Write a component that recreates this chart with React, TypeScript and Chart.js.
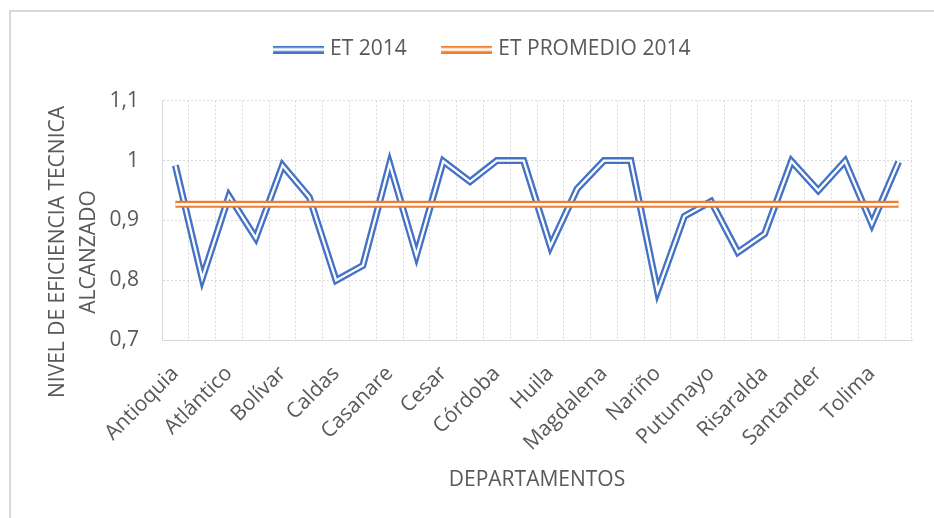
import React, { useEffect, useRef } from 'react';
import { Chart, registerables } from 'chart.js';

Chart.register(...registerables);

const DEPARTAMENTOS = [
  'Antioquia', 'Arauca', 'Atlántico', 'Bogotá D.C.', 'Bolívar', 'Boyacá', 'Caldas', 'Caquetá',
  'Casanare', 'Cauca', 'Cesar', 'Chocó', 'Córdoba', 'Cundinamarca', 'Huila', 'La Guajira',
  'Magdalena', 'Meta', 'Nariño', 'Norte de Santander', 'Putumayo', 'Quindío', 'Risaralda',
  'San Andrés', 'Santander', 'Sucre', 'Tolima', 'Valle del Cauca',
];

const ET_2014 = [
  0.992, 0.803, 0.941, 0.871, 0.992, 0.939, 0.800, 0.825,
  0.995, 0.842, 0.999, 0.965, 1.000, 1.000, 0.857, 0.953,
  1.000, 1.000, 0.782, 0.907, 0.932, 0.847, 0.878, 0.999,
  0.950, 0.999, 0.894, 0.998,
];

const ET_PROMEDIO_2014 = [
  0.927, 0.927, 0.927, 0.927, 0.927, 0.927, 0.927, 0.927,
  0.927, 0.927, 0.927, 0.927, 0.927, 0.927, 0.927, 0.927,
  0.927, 0.927, 0.927, 0.927, 0.927, 0.927, 0.927, 0.927,
  0.927, 0.927, 0.927, 0.927,
];

const SERIES_NAMES = ['ET 2014', 'ET PROMEDIO 2014'];
const Y_TITLE_LINES = ['NIVEL DE EFICIENCIA TECNICA', 'ALCANZADO'];
const X_TITLE = 'DEPARTAMENTOS';
const Y_MIN = 0.7;
const Y_MAX = 1.1;
const Y_STEP = 0.1;

const BLUE = '#4472C4';
const ORANGE = '#ED7D31';
const TEXT = '#595959';
const FONT = "'Open Sans', sans-serif";

function doubleLineSwatch(color: string): HTMLCanvasElement {
  const c = document.createElement('canvas');
  c.width = 51;
  c.height = 8;
  const g = c.getContext('2d')!;
  g.fillStyle = color;
  g.fillRect(0, 0, 51, 2.5);
  g.fillRect(0, 5.5, 51, 2.5);
  return c;
}

const frame = {
  id: 'frame',
  beforeDraw(chart: any) {
    const ctx = chart.ctx;
    ctx.save();
    ctx.fillStyle = '#ffffff';
    ctx.fillRect(0, 0, chart.width, chart.height);
    ctx.strokeStyle = '#d9d9d9';
    ctx.lineWidth = 2;
    ctx.strokeRect(10, 11, chart.width + 40, chart.height + 40);
    ctx.restore();
  },
};

const yTitle = {
  id: 'yTitle',
  afterDraw(chart: any) {
    const ctx = chart.ctx;
    ctx.save();
    ctx.fillStyle = TEXT;
    ctx.font = `21px ${FONT}`;
    ctx.textAlign = 'center';
    ctx.textBaseline = 'middle';
    Y_TITLE_LINES.forEach((t, i) => {
      ctx.save();
      ctx.translate(58.5 + i * 31, 252);
      ctx.rotate(-Math.PI / 2);
      ctx.fillText(t, 0, 0);
      ctx.restore();
    });
    ctx.restore();
  },
};

export default function App() {
  const ref = useRef<HTMLCanvasElement>(null);

  useEffect(() => {
    if (!ref.current) return;
    Chart.defaults.font.family = FONT;
    const lineCommon = {
      pointRadius: 0,
      pointHoverRadius: 0,
      tension: 0,
      borderJoinStyle: 'miter' as const,
      borderCapStyle: 'butt' as const,
      fill: false,
    };
    const chart = new Chart(ref.current, {
      type: 'line',
      data: {
        labels: DEPARTAMENTOS,
        datasets: [
          { ...lineCommon, label: SERIES_NAMES[0], data: ET_2014, borderColor: BLUE, backgroundColor: BLUE, borderWidth: 7, order: 4, pointStyle: doubleLineSwatch(BLUE) },
          { ...lineCommon, label: '', data: ET_2014, borderColor: '#ffffff', backgroundColor: '#ffffff', borderWidth: 2.3, order: 3 },
          { ...lineCommon, label: SERIES_NAMES[1], data: ET_PROMEDIO_2014, borderColor: ORANGE, backgroundColor: ORANGE, borderWidth: 7, order: 2, pointStyle: doubleLineSwatch(ORANGE) },
          { ...lineCommon, label: '', data: ET_PROMEDIO_2014, borderColor: '#ffffff', backgroundColor: '#ffffff', borderWidth: 2.6, order: 1 },
        ],
      },
      options: {
        responsive: false,
        animation: false,
        devicePixelRatio: 1,
        layout: { padding: { left: 56, right: 22, top: 0, bottom: 0 } },
        plugins: {
          tooltip: { enabled: false },
          title: {
            display: true,
            text: '',
            position: 'top',
            weight: 500,
            padding: 0,
            font: { size: 25.6, lineHeight: 1.2 },
          },
          legend: {
            position: 'top',
            labels: {
              usePointStyle: true,
              pointStyleWidth: 42,
              padding: 39,
              color: TEXT,
              font: { size: 21, family: FONT },
              filter: (item: any) => SERIES_NAMES.includes(item.text),
              sort: (a: any, b: any) => a.datasetIndex - b.datasetIndex,
            },
          },
        },
        scales: {
          x: {
            type: 'category',
            offset: true,
            afterFit: (s: any) => {
              s.height = 177.7;
              s.paddingLeft = 0;
              s.paddingRight = 0;
            },
            grid: { offset: true, color: '#d9d9d9', lineWidth: 1, drawTicks: false },
            border: { display: true, color: '#d9d9d9', width: 1, dash: [2, 2] },
            ticks: {
              autoSkip: false,
              minRotation: 45,
              maxRotation: 45,
              padding: 21,
              color: TEXT,
              font: { size: 21, family: FONT },
              callback: function (this: any, value: any, index: number) {
                return index % 2 === 0 ? this.getLabelForValue(value) : '';
              },
            },
            title: {
              display: true,
              text: X_TITLE,
              color: TEXT,
              font: { size: 21, family: FONT },
              padding: { top: 0, bottom: 25 },
            },
          },
          y: {
            min: Y_MIN,
            max: Y_MAX,
            afterFit: (s: any) => { s.width = 106; },
            grid: { color: '#d9d9d9', lineWidth: 1, drawTicks: false },
            border: { display: true, color: '#d9d9d9', width: 1, dash: [2, 2] },
            ticks: {
              stepSize: Y_STEP,
              padding: 23,
              color: TEXT,
              font: { size: 21, family: FONT },
              callback: (v: any) => String(Math.round(Number(v) * 10) / 10).replace('.', ','),
            },
          },
        },
      },
      plugins: [frame, yTitle],
    });
    return () => chart.destroy();
  }, []);

  return (
    <div style={{ position: 'fixed', left: 0, top: 0, width: 934, height: 518, overflow: 'hidden', background: '#fff' }}>
      <canvas ref={ref} width={934} height={518} style={{ display: 'block', width: 934, height: 518 }} />
    </div>
  );
}
